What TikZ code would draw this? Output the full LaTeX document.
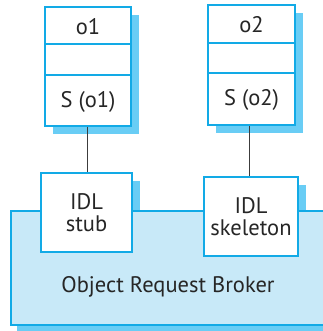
\documentclass[tikz,border=0pt]{standalone}
\usepackage{fontspec}
\setmainfont{PT Sans}
\definecolor{edgecol}{RGB}{18,170,230}
\definecolor{shadecol}{RGB}{105,205,245}
\definecolor{orbfill}{RGB}{200,233,248}
\definecolor{wirecol}{RGB}{60,60,60}
\tikzset{
  objbox/.style={draw=edgecol, line width=2pt, fill=white, minimum width=#1, inner sep=0pt},
  txt/.style={font=\fontsize{22.5}{21.5}\selectfont, text=black!85, align=center, inner sep=0pt},
  divider/.style={draw=edgecol, line width=1.2pt},
  wireline/.style={draw=wirecol, line width=0.9pt}
}
\begin{document}
\begin{tikzpicture}[x=1pt,y=-1pt]
\useasboundingbox (0,0) rectangle (322,331);
% shadows of object boxes
\fill[shadecol] (53,15) rectangle (139,134);
\fill[shadecol] (216,13) rectangle (303,133);
% object boxes
\node[objbox=86pt, minimum height=119pt] (o1) at (88,66.5) {};
\node[objbox=87pt, minimum height=120pt] (o2) at (251.5,65) {};
\draw[divider] (45,44) -- (131,44);
\draw[divider] (45,75) -- (131,75);
\draw[divider] (208,43) -- (295,43);
\draw[divider] (208,73) -- (295,73);
\node[txt] (o1name) at (88,27) {o1};
\node[txt] (o1s) at (88,102) {S (o1)};
\node[txt] (o2name) at (251.5,25) {o2};
\node[txt] (o2s) at (251.5,100) {S (o2)};
% stub shadows
\fill[shadecol] (49,181) rectangle (140,260);
\fill[shadecol] (212,185) rectangle (306,264);
% ORB
\fill[shadecol] (17,217) rectangle (340,331);
\draw[edgecol, line width=2pt, fill=orbfill] (11,211) rectangle (335,325);
\node[txt] (orb) at (168,287) {Object Request Broker};
% stub and skeleton
\node[objbox=91pt, minimum height=79pt, txt] (stub) at (86.5,212.5) {IDL\\stub};
\node[objbox=94pt, minimum height=79pt, txt] (skel) at (251,216.5) {IDL\\skeleton};
% connectors
\draw[wireline] (o1.south -| 87,0) -- (stub.north -| 87,0);
\draw[wireline] (o2.south -| 249,0) -- (skel.north -| 249,0);
\end{tikzpicture}
\end{document}
